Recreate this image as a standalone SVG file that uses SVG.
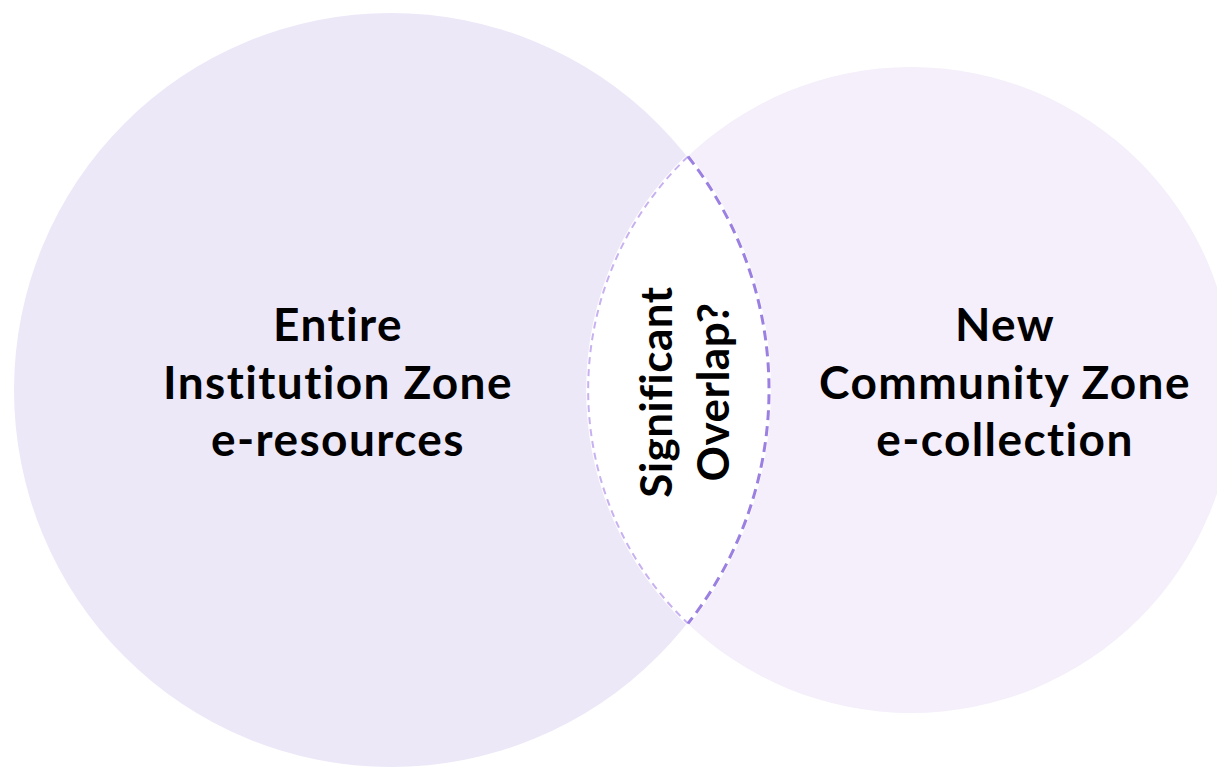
<svg xmlns="http://www.w3.org/2000/svg" width="1217" height="767" viewBox="0 0 1217 767">
<style>
.lbl{font-family:Lato,"Noto Sans",sans-serif;font-weight:bold;fill:#000;text-anchor:middle}
.big{font-size:46px;letter-spacing:1.4px}
.mid{font-size:44px;letter-spacing:0.5px}
</style>
<rect width="1217" height="767" fill="#fff"/>
<g id="left-zone">
<circle cx="391" cy="390" r="377" fill="#ECE8F8"/>
</g>
<g id="right-zone">
<circle cx="911" cy="390" r="323" fill="#F4EFFA"/>
</g>
<g id="overlap">
<path d="M688,156.5 A323,323 0 0 0 688,623.5 A377,377 0 0 0 688,156.5 Z" fill="#fff" stroke="#fff" stroke-width="4"/>
<path d="M688,156.5 A323,323 0 0 0 688,623.5" fill="none" stroke="#C8B1F0" stroke-width="2" stroke-dasharray="7,5"/>
<path d="M688,156.5 A377,377 0 0 1 688,623.5" fill="none" stroke="#9B80E2" stroke-width="3" stroke-dasharray="10,6"/>
<text class="lbl mid" transform="translate(684,392) rotate(-90)"><tspan x="0" y="-12">Significant</tspan><tspan x="0" y="45">Overlap?</tspan></text>
</g>
<g id="labels">
<text class="lbl big" x="338" y="341">Entire</text>
<text class="lbl big" x="338" y="399">Institution Zone</text>
<text class="lbl big" x="338" y="456">e-resources</text>
<text class="lbl big" x="1005" y="341">New</text>
<text class="lbl big" x="1005" y="399">Community Zone</text>
<text class="lbl big" x="1005" y="456">e-collection</text>
</g>
<g id="connectors"></g>
</svg>
